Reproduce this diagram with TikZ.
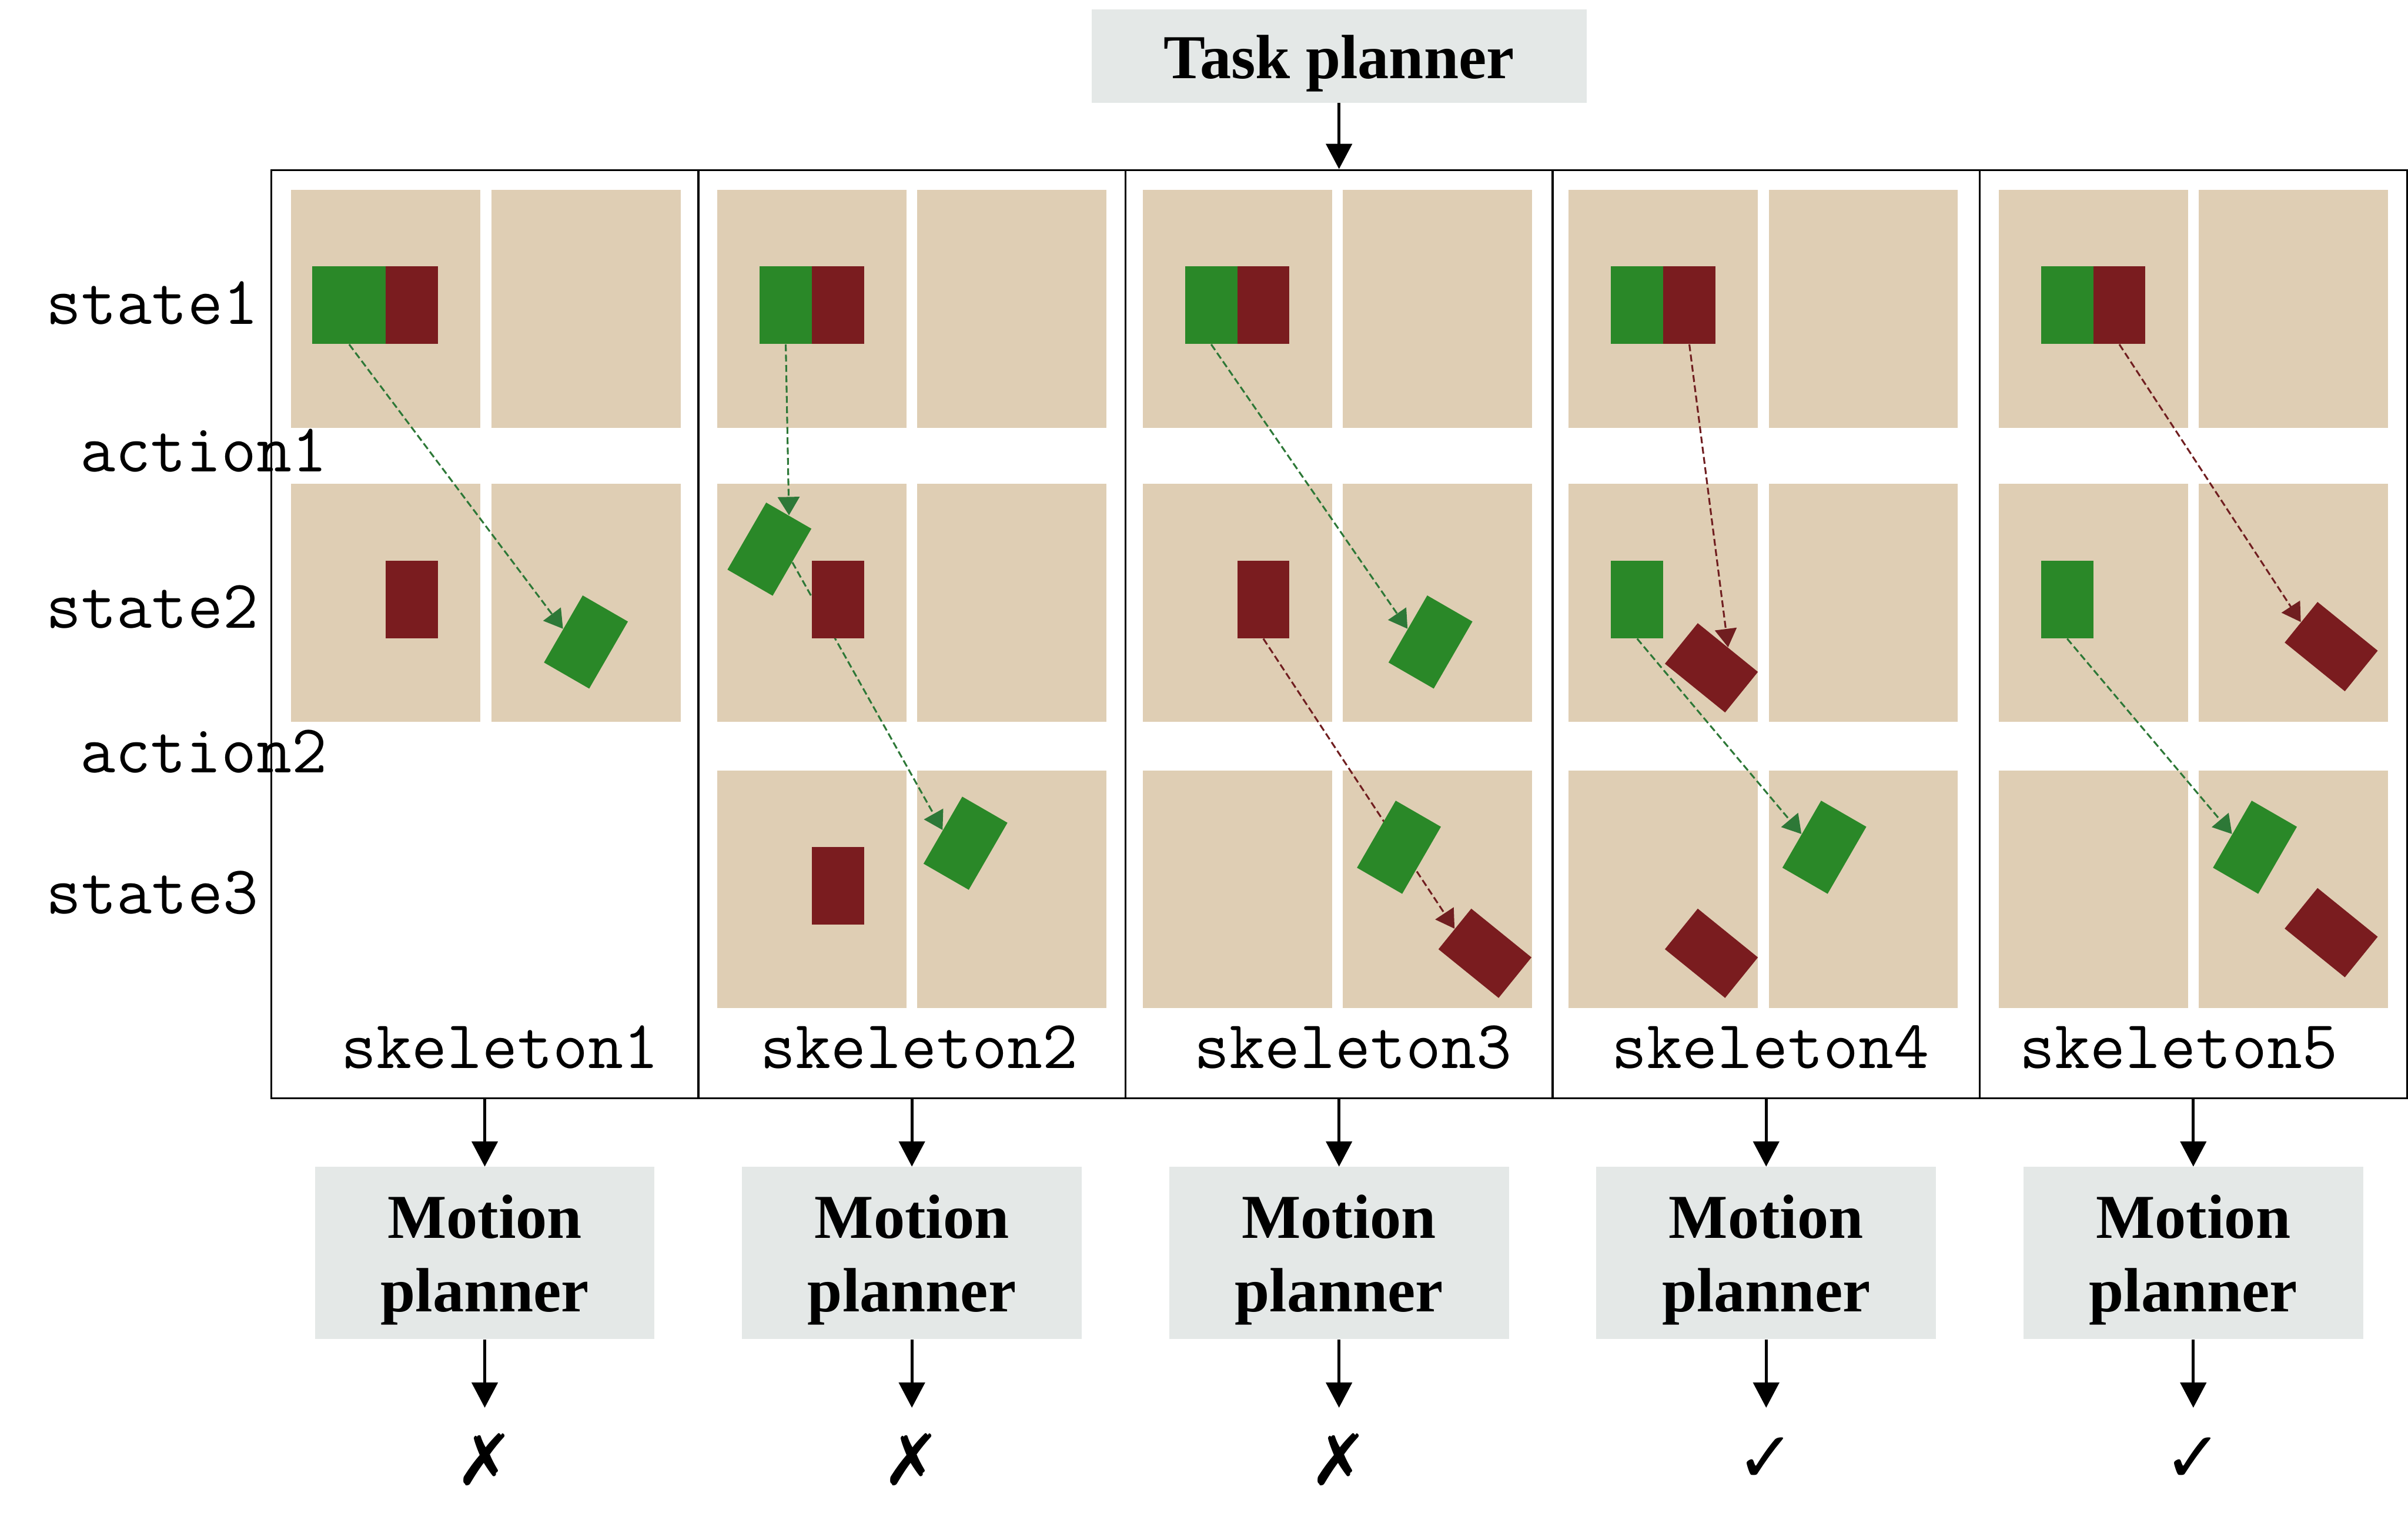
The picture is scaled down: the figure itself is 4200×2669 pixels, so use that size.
\documentclass[tikz,border=0pt]{standalone}
\usepackage{fontspec}
\usepackage{tikz}
\usetikzlibrary{arrows.meta, positioning}
\newfontfamily\plannerfont{Liberation Serif}
\newfontfamily\markfont{DejaVu Sans}
\definecolor{sk-tile}{RGB}{223,206,180}
\definecolor{sk-green}{RGB}{42,136,40}
\definecolor{sk-red}{RGB}{122,28,31}
\definecolor{sk-greenarr}{RGB}{45,120,55}
\definecolor{sk-redarr}{RGB}{112,30,32}
\definecolor{sk-grey}{RGB}{228,232,231}
\pgfdeclarelayer{tiles}
\pgfdeclarelayer{links}
\pgfsetlayers{tiles,links,main}
\tikzset{
  sk@column/.style={
    draw, line width=0.9pt, inner sep=0pt,
    minimum width=7.45cm, minimum height=16.18cm
  },
  sk@task/.style={
    fill=sk-grey, inner sep=0pt,
    minimum width=8.63cm, minimum height=1.63cm,
    text height=1cm, text depth=0.21cm,
    font=\plannerfont\bfseries\fontsize{31}{36.5}\selectfont
  },
  sk@planner/.style={
    fill=sk-grey, inner sep=0pt, align=center,
    minimum width=5.92cm, minimum height=3cm,
    text height=2.3cm, text depth=0.26cm,
    font=\plannerfont\bfseries\fontsize{31}{36.5}\selectfont
  },
  sk@mark/.style={inner sep=0pt, minimum height=1.8cm, font=\markfont\fontsize{35}{40}\selectfont},
  sk@label/.style={inner sep=0pt, font=\ttfamily\fontsize{34}{40}\selectfont},
  sk@tile/.style={fill=sk-tile},
  sk@green/.style={fill=sk-green, inner sep=0pt, minimum width=0.91cm, minimum height=1.35cm},
  sk@red/.style={fill=sk-red, inner sep=0pt, minimum width=0.91cm, minimum height=1.35cm},
  sk@arr/.style={-{Triangle[width=0.45cm,length=0.44cm]}, line width=1.5pt},
  sk@gmove/.style={-{Triangle[width=0.38cm,length=0.32cm]}, line width=0.9pt,
                   dash pattern=on 0.12cm off 0.06cm, sk-greenarr},
  sk@rmove/.style={-{Triangle[width=0.38cm,length=0.32cm]}, line width=0.9pt,
                   dash pattern=on 0.12cm off 0.06cm, sk-redarr},
}

\begin{document}
\begin{tikzpicture}[x=0.01cm, y=-0.01cm]
  \useasboundingbox (0,0) rectangle (4200,2669);

  % one frame per skeleton
  \foreach \i in {1,...,5}
    \node[sk@column] (sk\i) at ({100.5+745*\i},1106) {};

  \node[sk@task, above=1.15cm of sk3] (task) {Task planner};
  \draw[sk@arr] (task.south) -- (sk3.north);

  \foreach \i/\m in {1/✗,2/✗,3/✗,4/✓,5/✓} {
    \node[sk@planner, below=1.18cm of sk\i] (mp\i) {Motion\\planner};
    \node[sk@mark, below=1.19cm of mp\i] (res\i) {\m};
    \draw[sk@arr] (sk\i.south) -- (mp\i.north);
    \draw[sk@arr] (mp\i.south) -- (res\i.north);
  }

  % scene tiles
  \begin{pgfonlayer}{tiles}
    \foreach \tl/\rows in {508/{331,844}, 1251/{331,844,1344}, 1993/{331,844,1344},
                           2736/{331,844,1344}, 3486/{331,844,1344}}
      \foreach \ty in \rows {
        \fill[sk@tile] (\tl,\ty) rectangle ++(330,415);
        \fill[sk@tile] (\tl+349,\ty) rectangle ++(330,415);
      }
  \end{pgfonlayer}

  % skeleton 1
  \node[sk@green, minimum width=1.28cm] (c1g1) at (609,532.5) {};
  \node[sk@red] (c1r1) at (718.5,532.5) {};
  \node[sk@red] (c1r2) at (718.5,1046) {};
  \node[sk@green, rotate=-30] (c1g2) at (1022,1120) {};

  % skeleton 2
  \node[sk@green] (c2g1) at (1370.5,532.5) {};
  \node[sk@red] (c2r1) at (1461.5,532.5) {};
  \node[sk@green, rotate=-30] (c2g2) at (1342,958) {};
  \node[sk@red] (c2r2) at (1461.5,1046) {};
  \node[sk@red] (c2r3) at (1461.5,1545) {};
  \node[sk@green, rotate=-30] (c2g3) at (1684,1471) {};

  % skeleton 3
  \node[sk@green] (c3g1) at (2112.5,532.5) {};
  \node[sk@red] (c3r1) at (2203.5,532.5) {};
  \node[sk@red] (c3r2) at (2203.5,1046) {};
  \node[sk@green, rotate=-30] (c3g2) at (2495,1120) {};
  \node[sk@green, rotate=-30] (c3g3) at (2440,1478) {};
  \node[sk@red, rotate=51] (c3r3) at (2590,1663) {};

  % skeleton 4
  \node[sk@green] (c4g1) at (2855.5,532.5) {};
  \node[sk@red] (c4r1) at (2946.5,532.5) {};
  \node[sk@green] (c4g2) at (2855.5,1046) {};
  \node[sk@red, rotate=51] (c4r2) at (2985,1165) {};
  \node[sk@red, rotate=51] (c4r3) at (2985,1663) {};
  \node[sk@green, rotate=-30] (c4g3) at (3182,1478) {};

  % skeleton 5
  \node[sk@green] (c5g1) at (3605.5,532.5) {};
  \node[sk@red] (c5r1) at (3696.5,532.5) {};
  \node[sk@green] (c5g2) at (3605.5,1046) {};
  \node[sk@red, rotate=51] (c5r2) at (4066,1128) {};
  \node[sk@green, rotate=-30] (c5g3) at (3933,1478) {};
  \node[sk@red, rotate=51] (c5r3) at (4066,1627) {};

  \begin{pgfonlayer}{links}
    \draw[sk@gmove] (c1g1.south) -- (c1g2.west);
    \draw[sk@gmove] (c2g1.south) -- (c2g2.north);
    \draw[sk@gmove] (c2g2.east)  -- (c2g3.west);
    \draw[sk@gmove] (c3g1.south) -- (c3g2.west);
    \draw[sk@rmove] (c3r2.south) -- (c3r3.north);
    \draw[sk@rmove] (c4r1.south) -- (c4r2.east);
    \draw[sk@gmove] (c4g2.south) -- (c4g3.west);
    \draw[sk@rmove] (c5r1.south) -- (c5r2.north);
    \draw[sk@gmove] (c5g2.south) -- (c5g3.west);
  \end{pgfonlayer}

  % row and skeleton labels
  \node[sk@label, anchor=base east] (st1) at (451,566)  {state1};
  \node[sk@label, anchor=base west] (ac1) at (139,823)  {action1};
  \node[sk@label, anchor=base east] (st2) at (451,1096) {state2};
  \node[sk@label, anchor=base west] (ac2) at (139,1348) {action2};
  \node[sk@label, anchor=base east] (st3) at (451,1594) {state3};
  \foreach \i/\x in {1/872,2/1603,3/2360,4/3088,5/3800}
    \node[sk@label, anchor=base] (name\i) at (\x,1864) {skeleton\i};
\end{tikzpicture}
\end{document}
